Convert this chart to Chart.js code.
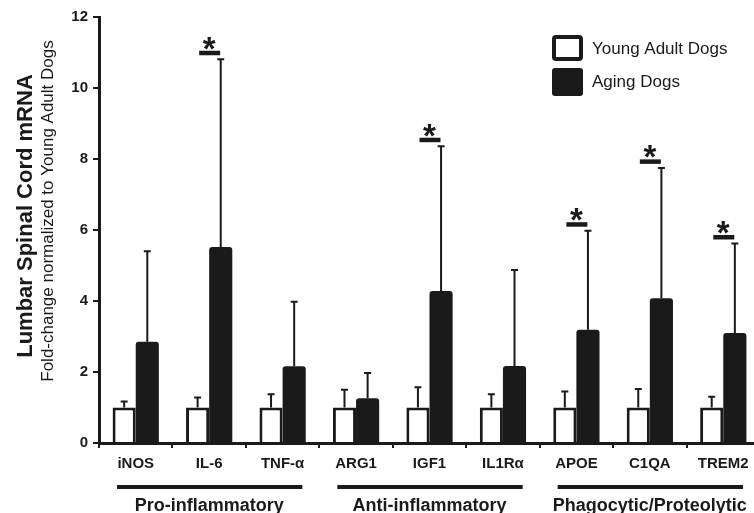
<!DOCTYPE html>
<html>
<head>
<meta charset="utf-8">
<script src="https://cdn.jsdelivr.net/npm/chart.js@4"></script>
<style>
  html, body { margin: 0; padding: 0; overflow: hidden; background: #fff; }
  #wrap { position: relative; width: 762px; height: 513px; }
</style>
</head>
<body>
<div id="wrap"><canvas id="myChartGenes"></canvas></div>
<script>
// Genes, in plot order
const genes = ["iNOS", "IL-6", "TNF-α", "ARG1", "IGF1", "IL1Rα", "APOE", "C1QA", "TREM2"];
// Mean fold-change (normalized to young adult dogs)
const youngMeans = [1, 1, 1, 1, 1, 1, 1, 1, 1];
const agingMeans = [2.85, 5.52, 2.16, 1.26, 4.28, 2.17, 3.19, 4.08, 3.1];
// Upper error bar size
const youngErr = [0.17, 0.28, 0.37, 0.5, 0.57, 0.37, 0.45, 0.52, 0.3];
const agingErr = [2.55, 5.29, 1.82, 0.71, 4.08, 2.7, 2.79, 3.67, 2.52];
// Aging vs young significance
const significant = [false, true, false, false, true, false, true, true, true];
// Gene groups under the axis
const groupNames = ["Pro-inflammatory", "Anti-inflammatory", "Phagocytic/Proteolytic"];
const groupSizes = [3, 3, 3];
const yTicks = [0, 2, 4, 6, 8, 10, 12];

const INK = "#1a1a1a";
const FONT = "'Liberation Sans', Arial, sans-serif";

// Error bars (upper only)
const errorBars = {
  id: "errorBars",
  afterDatasetsDraw(chart) {
    const ctx = chart.ctx;
    const y = chart.scales.y;
    ctx.save();
    ctx.strokeStyle = INK;
    ctx.lineWidth = 2;
    chart.data.datasets.forEach((ds, i) => {
      chart.getDatasetMeta(i).data.forEach((bar, j) => {
        const top = y.getPixelForValue(ds.data[j] + ds.errors[j]);
        ctx.beginPath();
        ctx.moveTo(bar.x, bar.y);
        ctx.lineTo(bar.x, top);
        ctx.moveTo(bar.x - 3.5, top);
        ctx.lineTo(bar.x + 3.5, top);
        ctx.stroke();
      });
    });
    ctx.restore();
  },
};

// Stars over significant genes
const sigMarks = {
  id: "sigMarks",
  afterDatasetsDraw(chart) {
    const ctx = chart.ctx;
    const x = chart.scales.x;
    const y = chart.scales.y;
    ctx.save();
    ctx.fillStyle = INK;
    ctx.font = "bold 33px " + FONT;
    ctx.textAlign = "center";
    ctx.textBaseline = "alphabetic";
    significant.forEach((sig, j) => {
      if (!sig) return;
      const cx = x.getPixelForValue(j);
      const lineY = y.getPixelForValue(agingMeans[j] + agingErr[j]) - 6.5;
      ctx.fillRect(cx - 10, lineY - 2, 21, 4.5);
      ctx.fillText("*", cx, lineY + 7);
    });
    ctx.restore();
  },
};

// Group lines and names under the tick labels
const groupLabels = {
  id: "groupLabels",
  afterDraw(chart) {
    const ctx = chart.ctx;
    const x = chart.scales.x;
    const half = (x.getPixelForValue(1) - x.getPixelForValue(0)) / 2;
    ctx.save();
    ctx.fillStyle = INK;
    ctx.font = "bold 18px " + FONT;
    ctx.textAlign = "center";
    ctx.textBaseline = "alphabetic";
    let start = 0;
    groupNames.forEach((name, g) => {
      const left = x.getPixelForValue(start) - half;
      const right = x.getPixelForValue(start + groupSizes[g] - 1) + half;
      ctx.fillRect(left + 18, 485, right - left - 35, 4);
      ctx.fillText(name, (left + right) / 2, 511);
      start += groupSizes[g];
    });
    ctx.restore();
  },
};

// Y titles and legend
const decorations = {
  id: "decorations",
  afterDraw(chart) {
    const ctx = chart.ctx;
    ctx.save();
    ctx.fillStyle = INK;
    ctx.textAlign = "center";
    ctx.textBaseline = "middle";
    ctx.save();
    ctx.translate(26, 216);
    ctx.rotate(-Math.PI / 2);
    ctx.font = "bold 22px " + FONT;
    ctx.fillText("Lumbar Spinal Cord mRNA", 0, 0);
    ctx.restore();
    ctx.save();
    ctx.translate(48, 211);
    ctx.rotate(-Math.PI / 2);
    ctx.font = "17px " + FONT;
    ctx.fillText("Fold-change normalized to Young Adult Dogs", 0, 0);
    ctx.restore();

    // legend
    const ds = chart.data.datasets;
    ctx.strokeStyle = INK;
    ctx.lineWidth = 4;
    ctx.beginPath();
    ctx.roundRect(554, 37, 27, 22, 2);
    ctx.stroke();
    ctx.beginPath();
    ctx.roundRect(552, 68, 31, 28, 3);
    ctx.fill();
    ctx.font = "17px " + FONT;
    ctx.textAlign = "left";
    ctx.fillText(ds[0].label, 592, 49);
    ctx.fillText(ds[1].label, 592, 82);
    ctx.restore();
  },
};

const ctx = document.getElementById("myChartGenes").getContext("2d");
new Chart(ctx, {
  type: "bar",
  data: {
    labels: genes,
    datasets: [
      {
        label: "Young Adult Dogs",
        data: youngMeans,
        errors: youngErr,
        backgroundColor: "#ffffff",
        borderColor: INK,
        borderWidth: 3,
      },
      {
        label: "Aging Dogs",
        data: agingMeans,
        errors: agingErr,
        backgroundColor: INK,
        borderRadius: 3,
      },
    ],
  },
  options: {
    responsive: true,
    maintainAspectRatio: false,
    animation: false,
    barPercentage: 1,
    categoryPercentage: 0.63,
    layout: { padding: { top: 17, right: 2, left: 0, bottom: 0 } },
    plugins: {
      legend: { display: false },
      tooltip: { enabled: false },
    },
    scales: {
      x: {
        offset: true,
        grid: {
          offset: true,
          drawOnChartArea: false,
          tickLength: 5,
          lineWidth: 2,
          color: INK,
        },
        border: { color: INK, width: 3 },
        ticks: {
          color: INK,
          font: { family: FONT, size: 15, weight: "bold" },
          padding: 7,
          maxRotation: 0,
          autoSkip: false,
        },
        afterFit: (s) => { s.height = 70; },
      },
      y: {
        min: 0,
        max: 12,
        afterBuildTicks: (s) => { s.ticks = yTicks.map((v) => ({ value: v })); },
        grid: {
          drawOnChartArea: false,
          tickLength: 6,
          lineWidth: 2,
          color: INK,
        },
        border: { color: INK, width: 3 },
        ticks: {
          color: INK,
          font: { family: FONT, size: 15, weight: "bold" },
          padding: 5,
        },
        afterFit: (s) => { s.width = 99; },
      },
    },
  },
  plugins: [errorBars, sigMarks, groupLabels, decorations],
});
</script>
</body>
</html>
